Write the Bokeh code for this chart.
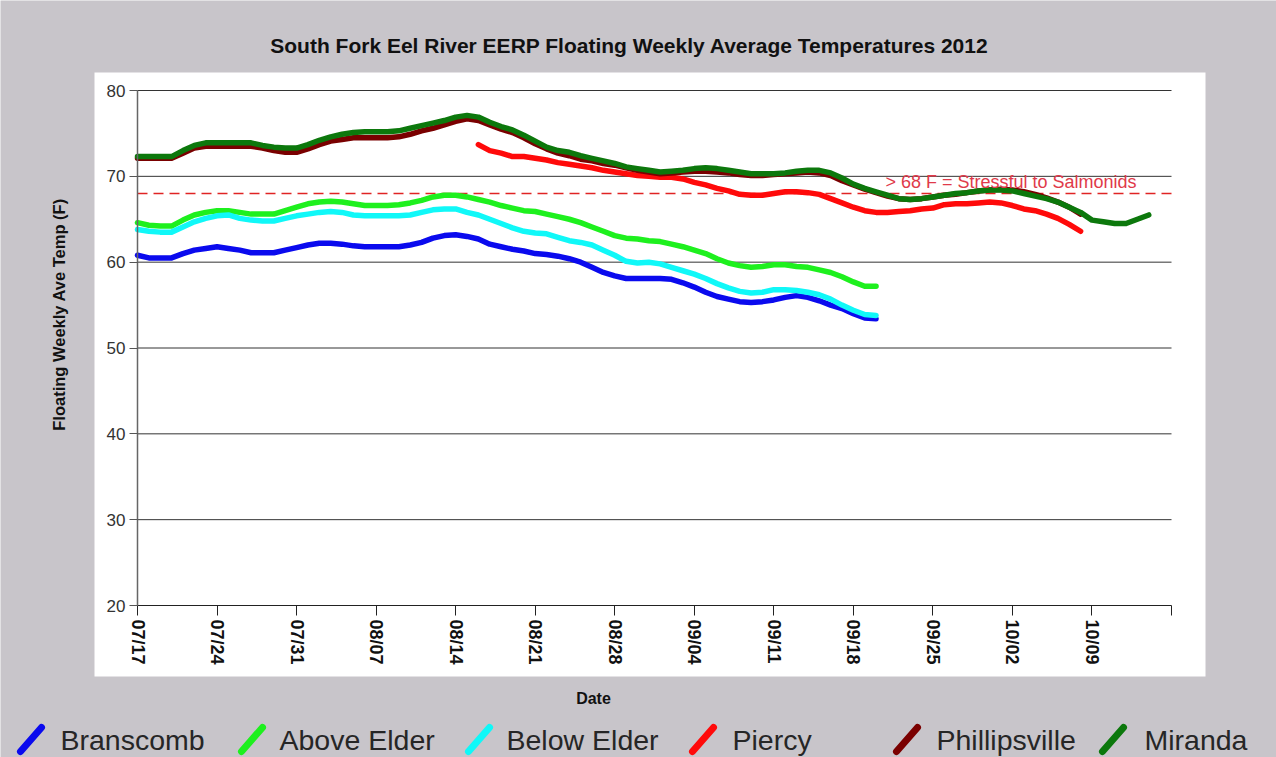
import math
import pandas as pd
from bokeh.plotting import figure
from bokeh.models import Label, BoxAnnotation, Arrow, FixedTicker, Range1d
from bokeh.embed import file_html
from bokeh.resources import INLINE

# ---------------- data ----------------
title_text = "South Fork Eel River EERP Floating Weekly Average Temperatures 2012"
x_title = "Date"
y_title = "Floating Weekly Ave Temp (F)"
first_date = "2012-07-17"
tick_labels = ["07/17", "07/24", "07/31", "08/07", "08/14", "08/21", "08/28",
               "09/04", "09/11", "09/18", "09/25", "10/02", "10/09", ""]
y_ticks = [20, 30, 40, 50, 60, 70, 80]
threshold = 68
threshold_label = "> 68 F = Stressful to Salmonids"

series_names = ["Branscomb", "Above Elder", "Below Elder", "Piercy", "Phillipsville", "Miranda"]
series_colors = ["#0a0aee", "#1ef01e", "#10f8f8", "#ff0a0a", "#7a0000", "#0c780c"]

branscomb_start = "2012-07-17"
branscomb = [60.8, 60.5, 60.5, 60.5, 61.0, 61.4, 61.6, 61.8, 61.6, 61.4,
             61.1, 61.1, 61.1, 61.4, 61.7, 62.0, 62.2, 62.2, 62.1, 61.9,
             61.8, 61.8, 61.8, 61.8, 62.0, 62.3, 62.8, 63.1, 63.2, 63.0,
             62.7, 62.1, 61.8, 61.5, 61.3, 61.0, 60.9, 60.7, 60.4, 60.0,
             59.4, 58.8, 58.4, 58.1, 58.1, 58.1, 58.1, 58.0, 57.6, 57.1,
             56.5, 56.0, 55.7, 55.4, 55.3, 55.4, 55.6, 55.9, 56.1, 55.9,
             55.5, 55.0, 54.6, 54.0, 53.5, 53.4]

above_elder_start = "2012-07-17"
above_elder = [64.6, 64.3, 64.2, 64.2, 64.9, 65.5, 65.8, 66.0, 66.0, 65.8,
               65.6, 65.6, 65.6, 66.0, 66.4, 66.8, 67.0, 67.1, 67.0, 66.8,
               66.6, 66.6, 66.6, 66.7, 66.9, 67.2, 67.6, 67.8, 67.8, 67.6,
               67.3, 67.0, 66.6, 66.3, 66.0, 65.9, 65.6, 65.3, 65.0, 64.6,
               64.1, 63.6, 63.1, 62.8, 62.7, 62.5, 62.4, 62.1, 61.8, 61.4,
               61.0, 60.4, 59.9, 59.6, 59.4, 59.5, 59.7, 59.7, 59.5, 59.4,
               59.1, 58.8, 58.3, 57.7, 57.2, 57.2]

below_elder_start = "2012-07-17"
below_elder = [63.8, 63.6, 63.5, 63.5, 64.1, 64.7, 65.1, 65.4, 65.5, 65.1,
               64.9, 64.8, 64.8, 65.1, 65.4, 65.6, 65.8, 65.9, 65.8, 65.5,
               65.4, 65.4, 65.4, 65.4, 65.5, 65.8, 66.1, 66.2, 66.2, 65.8,
               65.5, 65.0, 64.5, 64.0, 63.6, 63.4, 63.3, 62.9, 62.5, 62.3,
               62.0, 61.4, 60.8, 60.1, 59.9, 60.0, 59.8, 59.4, 59.0, 58.6,
               58.1, 57.5, 57.0, 56.6, 56.4, 56.5, 56.8, 56.8, 56.7, 56.5,
               56.2, 55.7, 55.0, 54.4, 53.9, 53.8]

piercy_start = "2012-08-16"
piercy = [73.7, 73.0, 72.7, 72.3, 72.3, 72.1, 71.9, 71.6, 71.4, 71.2,
          71.0, 70.7, 70.5, 70.3, 70.1, 70.0, 69.9, 69.9, 69.7, 69.3,
          69.0, 68.6, 68.3, 67.9, 67.8, 67.8, 68.0, 68.2, 68.2, 68.1,
          67.9, 67.4, 66.9, 66.4, 66.0, 65.8, 65.8, 65.9, 66.0, 66.2,
          66.3, 66.7, 66.8, 66.8, 66.9, 67.0, 66.9, 66.6, 66.2, 66.0,
          65.6, 65.1, 64.4, 63.6]

phillipsville_start = "2012-07-17"
phillipsville = [72.1, 72.1, 72.1, 72.1, 72.7, 73.3, 73.5, 73.5, 73.5, 73.5,
                 73.5, 73.3, 73.0, 72.8, 72.8, 73.2, 73.7, 74.1, 74.3, 74.5,
                 74.5, 74.5, 74.5, 74.6, 74.9, 75.3, 75.6, 76.0, 76.4, 76.7,
                 76.5, 76.0, 75.5, 75.1, 74.5, 73.8, 73.2, 72.7, 72.4, 72.0,
                 71.8, 71.5, 71.3, 71.0, 70.7, 70.5, 70.3, 70.4, 70.5, 70.6,
                 70.6, 70.5, 70.4, 70.2, 70.1, 70.1, 70.2, 70.3, 70.4, 70.5,
                 70.4, 70.1, 69.5, 69.0, 68.5, 68.1, 67.7, 67.4, 67.3, 67.4,
                 67.6, 67.8, 67.9, 68.1, 68.3, 68.4, 68.5, 68.4, 68.2, 67.9,
                 67.5, 67.0, 66.4, 65.6]

miranda_start = "2012-07-17"
miranda = [72.3, 72.3, 72.3, 72.3, 73.0, 73.6, 73.9, 73.9, 73.9, 73.9,
           73.9, 73.6, 73.4, 73.3, 73.3, 73.7, 74.2, 74.6, 74.9, 75.1,
           75.2, 75.2, 75.2, 75.3, 75.6, 75.9, 76.2, 76.5, 76.9, 77.1,
           76.9, 76.3, 75.8, 75.4, 74.8, 74.1, 73.4, 73.0, 72.8, 72.4,
           72.1, 71.8, 71.5, 71.1, 70.9, 70.7, 70.5, 70.6, 70.7, 70.9,
           71.0, 70.9, 70.7, 70.5, 70.3, 70.3, 70.3, 70.4, 70.6, 70.7,
           70.7, 70.4, 69.8, 69.1, 68.6, 68.2, 67.8, 67.4, 67.3, 67.4,
           67.6, 67.8, 68.0, 68.1, 68.3, 68.4, 68.4, 68.3, 68.0, 67.7,
           67.4, 67.0, 66.4, 65.8, 64.9, 64.7, 64.5, 64.5, 65.0, 65.5]

series_starts = [branscomb_start, above_elder_start, below_elder_start,
                 piercy_start, phillipsville_start, miranda_start]
series_values = [branscomb, above_elder, below_elder, piercy, phillipsville, miranda]

# ---------------- layout geometry (page pixels) ----------------
FIG_W, FIG_H = 1276, 757
AX_L, AX_R, AX_T, AX_B = 137, 1171, 90, 605      # where the axes sit
GRAY = "#c8c5ca"
FONT = "Liberation Sans"

t0 = pd.Timestamp(first_date)
tick_dates = pd.date_range(first_date, periods=len(tick_labels), freq="7D")
tick_pos = [int((d - t0).days) for d in tick_dates]
X0, X1 = tick_pos[0], tick_pos[-1]
Y0, Y1 = y_ticks[0], y_ticks[-1]


def px2x(px):
    return X0 + (px - AX_L) * (X1 - X0) / (AX_R - AX_L)


def py2y(py):
    return Y0 + (AX_B - py) * (Y1 - Y0) / (AX_B - AX_T)


# the frame fills the whole canvas; axes are pinned inside it
p = figure(width=FIG_W, height=FIG_H, output_backend="svg", toolbar_location=None,
           x_range=Range1d(px2x(0), px2x(FIG_W)), y_range=Range1d(py2y(FIG_H), py2y(0)),
           min_border=0, min_border_left=0, min_border_right=0,
           min_border_top=0, min_border_bottom=0,
           background_fill_color=GRAY, border_fill_color=GRAY,
           outline_line_color=None)

# white panel behind the plot
p.add_layout(BoxAnnotation(left=px2x(94), right=px2x(1205), top=py2y(72), bottom=py2y(676),
                           fill_color="white", fill_alpha=1.0, line_color=None, level="image"))

# axes (library axes pinned at data locations)
p.xaxis.fixed_location = Y0
p.xaxis.bounds = (X0, X1)
p.xaxis.ticker = FixedTicker(ticks=tick_pos)
p.xaxis.major_label_overrides = {pos: lab for pos, lab in zip(tick_pos, tick_labels)}
p.xaxis.major_label_orientation = "vertical"
p.xaxis.major_label_text_font = FONT
p.xaxis.major_label_text_font_style = "bold"
p.xaxis.major_label_text_font_size = "18px"
p.xaxis.major_label_text_color = "#111111"
p.xaxis.major_label_standoff = 4
p.xaxis.major_tick_out = 10
p.xaxis.major_tick_in = 0
p.xaxis.minor_tick_line_color = None
p.xaxis.axis_line_color = "#222222"
p.xaxis.major_tick_line_color = "#222222"

p.yaxis.fixed_location = X0
p.yaxis.bounds = (Y0, Y1)
p.yaxis.ticker = FixedTicker(ticks=y_ticks)
p.yaxis.major_label_text_font = FONT
p.yaxis.major_label_text_font_size = "17px"
p.yaxis.major_label_text_color = "#333333"
p.yaxis.major_label_standoff = 4
p.yaxis.major_tick_out = 8
p.yaxis.major_tick_in = 0
p.yaxis.minor_tick_line_color = None
p.yaxis.axis_line_color = "#666666"
p.yaxis.axis_line_width = 1.5
p.yaxis.major_tick_line_color = "#555555"

p.xgrid.visible = False
p.ygrid.visible = False

# horizontal grid lines across the axis span
grid_vals = [v for v in y_ticks if v != Y0]
p.segment(x0=[X0] * len(grid_vals), x1=[X1] * len(grid_vals), y0=grid_vals, y1=grid_vals,
          line_color="#333333", line_width=1)

# threshold line
p.segment(x0=[X0], x1=[X1], y0=[threshold], y1=[threshold],
          line_color="#e02424", line_width=1.3, line_dash="10 6")
p.add_layout(Label(x=px2x(885), y=py2y(181), text=threshold_label,
                   text_baseline="middle", text_align="left",
                   text_color="#e03a4a", text_font=FONT, text_font_size="18px"))

# data lines
for name, start, vals, color in zip(series_names, series_starts, series_values, series_colors):
    dates = pd.date_range(start, periods=len(vals), freq="D")
    xs = [int((d - t0).days) for d in dates]
    p.line(xs, vals, line_color=color, line_width=5.5, line_join="round", line_cap="round")

# title and axis titles
p.add_layout(Label(x=px2x(629), y=py2y(45), text=title_text, text_align="center",
                   text_baseline="middle", text_font=FONT, text_font_size="21px",
                   text_font_style="bold", text_color="#111111"))
p.add_layout(Label(x=px2x(593), y=py2y(698), text=x_title, text_align="center",
                   text_baseline="middle", text_font=FONT, text_font_size="16px",
                   text_font_style="bold", text_color="#111111"))
p.add_layout(Label(x=px2x(58), y=py2y(314), text=y_title, text_align="center",
                   text_baseline="middle", angle=math.pi / 2, text_font=FONT,
                   text_font_size="16.5px", text_font_style="bold", text_color="#111111"))

# legend (slanted strokes + names)
legend_bar_x = [20, 241, 468, 692, 896, 1102]
legend_text_x = [60, 279, 506, 732, 936, 1144]
for name, color, bx, tx in zip(series_names, series_colors, legend_bar_x, legend_text_x):
    p.add_layout(Arrow(x_start=px2x(bx), y_start=py2y(751), x_end=px2x(bx + 21), y_end=py2y(727),
                       start=None, end=None, line_color=color, line_width=7, line_cap="round"))
    p.add_layout(Label(x=px2x(tx), y=py2y(739), text=name, text_align="left",
                       text_baseline="middle", text_font=FONT, text_font_size="28.5px",
                       text_color="#262626"))

open("out.html", "w").write(file_html(p, INLINE))
